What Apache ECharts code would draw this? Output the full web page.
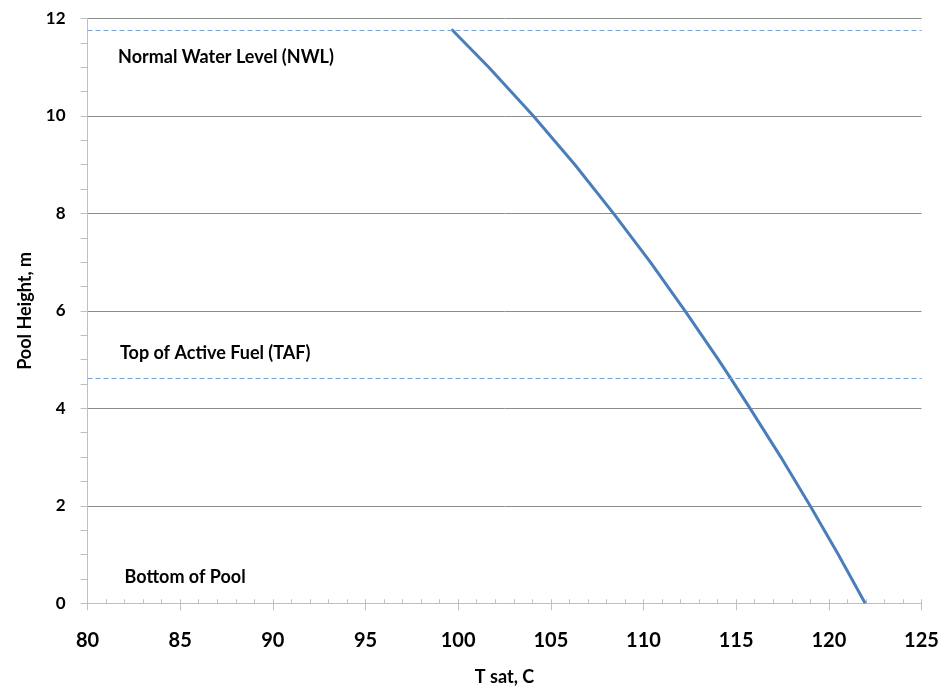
<!DOCTYPE html>
<html>
<head>
<meta charset="utf-8">
<script src="https://cdn.jsdelivr.net/npm/echarts@6/dist/echarts.min.js"></script>
<style>html,body{margin:0;padding:0;background:#fff;}#c{width:951px;height:692px;}</style>
</head>
<body>
<div id="c"></div>
<script>
// Data
const poolHeight = [11.78, 11, 10, 9, 8, 7, 6, 5, 4.63, 4, 3, 2, 1, 0];
const tSat = [99.64, 101.65, 104.06, 106.30, 108.38, 110.37, 112.24, 114.04, 114.68, 115.75, 117.41, 118.99, 120.51, 121.96];
const levelNames = ['Normal Water Level (NWL)', 'Top of Active Fuel (TAF)', 'Bottom of Pool'];
const levelHeights = [11.75, 4.62, 0];
const labelAnchorT = [81.65, 81.75, 82.0];
const labelAnchorH = [11.21, 5.13, 0.53];
const xTitle = 'T sat, C';
const yTitle = 'Pool Height, m';

const FONT = 'Lato';
const chart = echarts.init(document.getElementById('c'), null, {renderer: 'canvas'});

const curveData = poolHeight.map((h, i) => [tSat[i], h]);
const dashStyle = {color: '#7ba3d8', type: [5, 3], width: 1};
const dashedLines = levelHeights.slice(0, 2).map(v => ({yAxis: v, lineStyle: dashStyle}));
const annotations = levelNames.map((n, i) => ({
  coord: [labelAnchorT[i], labelAnchorH[i]],
  name: n,
  value: n
}));

chart.setOption({
  animation: false,
  grid: {left: 87.5, right: 29.5, top: 18.5, bottom: 88.7, containLabel: false, outerBoundsMode: 'none'},
  xAxis: [{
    type: 'value', min: 80, max: 125, interval: 5,
    name: xTitle, nameLocation: 'middle', nameGap: 65,
    nameTextStyle: {fontFamily: FONT, fontWeight: 'bold', fontSize: 18, color: '#000'},
    axisLine: {show: true, lineStyle: {color: '#bfbfbf', width: 1}},
    axisTick: {show: true, inside: true, length: 4, lineStyle: {color: '#bfbfbf'}},
    minorTick: {show: true, splitNumber: 5, length: 4, lineStyle: {color: '#bfbfbf'}},
    axisLabel: {fontFamily: FONT, fontWeight: 'bold', fontSize: 20, color: '#000', margin: 27},
    splitLine: {show: false}
  }, {
    type: 'value', min: 80, max: 125, interval: 5, position: 'bottom',
    axisLine: {show: false},
    axisTick: {show: true, length: 7, lineStyle: {color: '#bfbfbf'}},
    axisLabel: {show: false},
    splitLine: {show: false}
  }],
  yAxis: {
    type: 'value', min: 0, max: 12, interval: 2,
    name: yTitle, nameLocation: 'middle', nameGap: 53, nameRotate: 90,
    nameTextStyle: {fontFamily: FONT, fontWeight: 'bold', fontSize: 18, color: '#000'},
    axisLine: {show: true, lineStyle: {color: '#bfbfbf', width: 1}},
    axisTick: {show: true, length: 7, lineStyle: {color: '#bfbfbf'}},
    minorTick: {show: true, splitNumber: 4, length: 7, lineStyle: {color: '#bfbfbf'}},
    axisLabel: {fontFamily: FONT, fontWeight: 'bold', fontSize: 17, color: '#000', margin: 22},
    splitLine: {show: true, lineStyle: {color: '#8c8c8c', width: 1}}
  },
  series: [{
    type: 'line',
    data: curveData,
    smooth: false,
    symbol: 'none',
    lineStyle: {color: '#4a7ebb', width: 3},
    markLine: {
      silent: true, symbol: 'none',
      label: {show: false},
      lineStyle: dashStyle,
      data: dashedLines
    },
    markPoint: {
      symbol: 'circle', symbolSize: 0,
      label: {
        show: true, position: 'right', distance: 0,
        formatter: p => p.name,
        fontFamily: FONT, fontWeight: 'bold', fontSize: 18, color: '#000'
      },
      data: annotations
    }
  }]
});
</script>
</body>
</html>
